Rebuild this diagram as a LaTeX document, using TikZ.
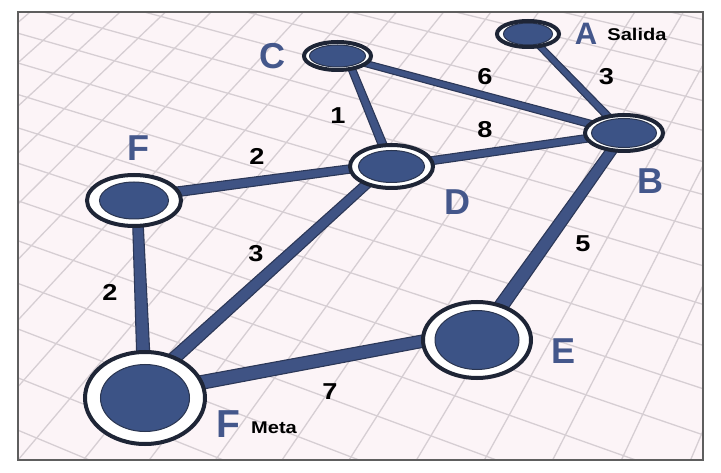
\documentclass[tikz,border=0pt]{standalone}
\usepackage{fontspec}
\setmainfont{Liberation Sans}
\newfontfamily\widefont[FakeStretch=1.18]{Liberation Sans}
\usetikzlibrary{shapes.geometric,calc}
\pgfdeclarelayer{gridlayer}
\pgfdeclarelayer{edgelayer}
\pgfsetlayers{gridlayer,edgelayer,main}
\definecolor{bgpink}{HTML}{FCF4F7}
\definecolor{gridc}{HTML}{D6CED3}
\definecolor{ringdark}{HTML}{1E2536}
\definecolor{nodeblue}{HTML}{3C5386}
\definecolor{innerdark}{HTML}{2A3550}
\definecolor{edgeblue}{HTML}{3F5384}
\definecolor{edgedark}{HTML}{2C3858}
\definecolor{letterblue}{HTML}{44578B}
\definecolor{framec}{HTML}{5E5E5E}
\newcommand\tedge[4]{\filldraw[edgestyle] ($#1!#3!90:#2$) -- ($#2!#4!-90:#1$) -- ($#2!#4!90:#1$) -- ($#1!#3!-90:#2$) -- cycle;}
\begin{document}
\begin{tikzpicture}[x=1pt,y=-1pt,
  declare function={gw(\s,\t)=1-0.018*\s-0.011*\t;
    gx(\s,\t)=(-24.66*\s+33*\t)/gw(\s,\t);
    gy(\s,\t)=(20.52*\s+9.13*\t)/gw(\s,\t);},
  gridline/.style={draw=gridc, line width=1.3pt},
  edgestyle/.style={fill=edgeblue, draw=edgedark, line width=1.1pt, line join=round},
  vnode/.style n args={4}{ellipse, inner sep=0pt, outer sep=0pt,
    minimum width=#1pt, minimum height=#2pt, draw=ringdark, line width=4pt, fill=white,
    path picture={\filldraw[fill=nodeblue, draw=innerdark, line width=1pt]
      (path picture bounding box.center) ellipse[x radius=#3pt, y radius=#4pt];}},
  letter/.style={text=letterblue, font=\fontsize{36}{36}\selectfont\bfseries, inner sep=0pt},
  numlbl/.style={text=black, font=\widefont\fontsize{23}{23}\selectfont\bfseries, inner sep=0pt},
  smalllbl/.style={text=black, font=\widefont\fontsize{17}{17}\selectfont\bfseries, inner sep=0pt}]
\useasboundingbox (0,0) rectangle (721,473);
\begin{pgfonlayer}{gridlayer}
  \fill[white] (0,0) rectangle (721,473);
  \fill[bgpink] (18,12) rectangle (703,460);
  \begin{scope}
    \clip (18,12) rectangle (703,460);
    \foreach \s in {-8,...,14}{\draw[gridline] ({gx(\s,-3)},{gy(\s,-3)}) -- ({gx(\s,24)},{gy(\s,24)});}
    \foreach \t in {-3,...,24}{\draw[gridline] ({gx(-8,\t)},{gy(-8,\t)}) -- ({gx(14,\t)},{gy(14,\t)});}
  \end{scope}
  \draw[framec, line width=1.8pt] (18,12) rectangle (703,460);
\end{pgfonlayer}
% nodes
\node[vnode={62}{26}{24.5}{11}] (A) at (528,34) {};
\node[vnode={67}{28}{28}{11}] (C) at (337.5,56) {};
\node[vnode={83}{43}{33}{16}] (D) at (391.5,166.5) {};
\node[vnode={78}{36}{32.5}{14.5}] (B) at (624,133) {};
\node[vnode={94}{51}{34.5}{18.5}] (F1) at (134,200.5) {};
\node[vnode={108}{76}{42}{29.5}] (E) at (477,340) {};
\node[vnode={120}{92}{44.5}{33.5}] (F2) at (145,398) {};
% edges
\begin{pgfonlayer}{edgelayer}
  \tedge{(A.center)}{(B.center)}{3pt}{3.8pt}
  \tedge{(C.center)}{(B.center)}{3pt}{3.8pt}
  \tedge{($(C.center)+(9,0)$)}{(D.center)}{3.5pt}{4.5pt}
  \tedge{(D.center)}{(B.center)}{4pt}{3.8pt}
  \tedge{($(F1.center)+(0,-3)$)}{($(D.center)+(0,-3)$)}{5pt}{4pt}
  \tedge{($(F1.center)+(3,0)$)}{(F2.center)}{5pt}{7pt}
  \tedge{($(D.center)+(0,-5)$)}{($(F2.center)+(15,-27)$)}{4.5pt}{6.5pt}
  \tedge{(B.center)}{(E.center)}{5pt}{7.5pt}
  \tedge{($(F2.center)+(0,-5)$)}{($(E.center)+(0,-9)$)}{7pt}{6pt}
\end{pgfonlayer}
% letters
\node[letter, font=\fontsize{31}{31}\selectfont\bfseries] (lA) at (586,34) {A};
\node[smalllbl] (lSalida) at (637,34) {Salida};
\node[letter] (lC) at (272,56) {C};
\node[letter] (lD) at (457,202) {D};
\node[letter] (lF1) at (138,148) {F};
\node[letter] (lB) at (650,181) {B};
\node[letter] (lE) at (563.5,351) {E};
\node[letter, font=\fontsize{39}{39}\selectfont\bfseries] (lF2) at (228,424) {F};
\node[smalllbl] (lMeta) at (274,428) {Meta};
% weights
\node[numlbl] (w6) at (485,77) {6};
\node[numlbl] (w3a) at (606.5,77) {3};
\node[numlbl] (w1) at (338,116) {1};
\node[numlbl] (w8) at (485,130) {8};
\node[numlbl] (w2a) at (257,156) {2};
\node[numlbl] (w3b) at (256,254) {3};
\node[numlbl] (w2b) at (110,292) {2};
\node[numlbl] (w5) at (583,244) {5};
\node[numlbl] (w7) at (330,392) {7};
\end{tikzpicture}
\end{document}
